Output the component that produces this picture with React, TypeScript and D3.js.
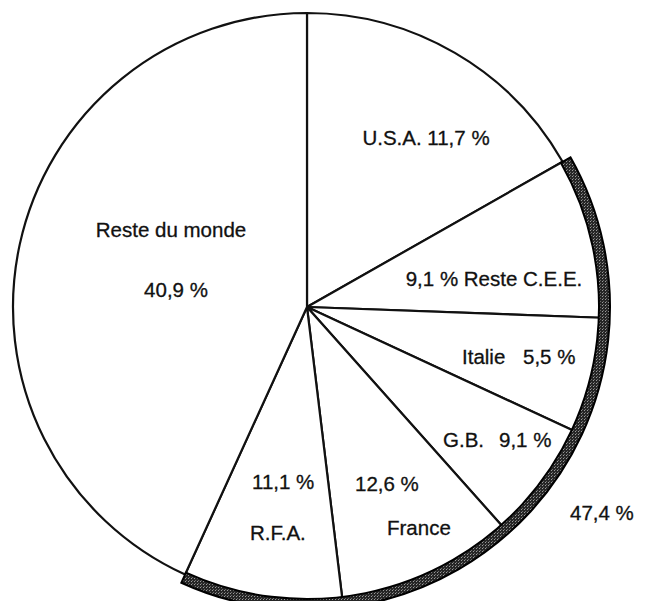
import React, { useRef, useEffect } from 'react';
import * as d3 from 'd3';

// slices clockwise from 12 o'clock
const countries = ['U.S.A.', 'Reste C.E.E.', 'Italie', 'G.B.', 'France', 'R.F.A.', 'Reste du monde'];
// printed percentages
const shares = [11.7, 9.1, 5.5, 9.1, 12.6, 11.1, 40.9];
// sector sizes as actually drawn in the original (degrees), not proportional to shares
const drawnDegrees = [60.4, 31.7, 22.8, 23.4, 34.8, 31.4, 155.5];
// slices covered by the thick outer band (C.E.E. members)
const eecIndices = [1, 2, 3, 4, 5];

const W = 645;
const H = 601;
const cx = 307;
const cy = 307;
const R = 294;

const pct = (v: number) => d3.format('.1f')(v).replace('.', ',') + ' %';

const App = () => {
  const ref = useRef<SVGSVGElement>(null);

  useEffect(() => {
    if (!ref.current) return;
    const svg = d3.select(ref.current);
    svg.selectAll('*').remove();

    const defs = svg.append('defs');
    const pat = defs.append('pattern')
      .attr('id', 'stipple')
      .attr('width', 3).attr('height', 3)
      .attr('patternUnits', 'userSpaceOnUse');
    pat.append('rect').attr('width', 3).attr('height', 3).attr('fill', '#262626');
    pat.append('rect').attr('x', 1).attr('y', 1).attr('width', 1).attr('height', 1).attr('fill', '#9a9a9a');
    pat.append('rect').attr('x', 2).attr('y', 0).attr('width', 1).attr('height', 1).attr('fill', '#6a6a6a');

    const g = svg.append('g').attr('transform', `translate(${cx},${cy})`);

    const pie = d3.pie<number>().sort(null).value(d => d)
      .startAngle(0).endAngle(2 * Math.PI);
    const arcs = pie(drawnDegrees);

    const arc = d3.arc<d3.PieArcDatum<number>>().innerRadius(0).outerRadius(R);

    g.selectAll('path.slice')
      .data(arcs)
      .enter().append('path')
      .attr('class', 'slice')
      .attr('d', arc)
      .attr('fill', '#fff')
      .attr('stroke', '#111')
      .attr('stroke-width', 2.2)
      .attr('stroke-linejoin', 'round');

    // thick band around the E.E.C. slices
    const bandStart = arcs[eecIndices[0]].startAngle;
    const bandEnd = arcs[eecIndices[eecIndices.length - 1]].endAngle;
    const band = d3.arc()
      .innerRadius(R - 2)
      .outerRadius(R + 9)
      .startAngle(bandStart)
      .endAngle(bandEnd);
    g.append('path')
      .attr('d', band as any)
      .attr('fill', 'url(#stipple)')
      .attr('stroke', '#000')
      .attr('stroke-width', 2);

    const font = { family: '"Liberation Sans", Arial, sans-serif', size: 20.5 };
    const txt = (x: number, y: number, s: string, anchor = 'start') =>
      svg.append('text')
        .attr('x', x).attr('y', y)
        .attr('text-anchor', anchor)
        .attr('font-family', font.family)
        .attr('font-size', font.size)
        .attr('fill', '#111')
        .attr('stroke', '#111')
        .attr('stroke-width', 0.3)
        .text(s);

    const [usa, cee, ita, gb, fra, rfa, rdm] = countries;
    txt(426, 145, `${usa} ${pct(shares[0])}`, 'middle');
    txt(494, 286, `${pct(shares[1])} ${cee}`, 'middle');
    txt(462, 364, ita);
    txt(523, 364, pct(shares[2]));
    txt(443, 447, gb);
    txt(499, 447, pct(shares[3]));
    txt(355, 491, pct(shares[4]));
    txt(387, 535, fra);
    txt(252, 489, pct(shares[5]));
    txt(250, 540, rfa);
    txt(171, 237, rdm, 'middle');
    txt(176, 297, pct(shares[6]), 'middle');

    const eecTotal = d3.sum(eecIndices, i => shares[i]);
    txt(570, 520, pct(eecTotal));
  }, []);

  return (
    <svg
      ref={ref}
      width={W}
      height={H}
      style={{ position: 'absolute', left: 0, top: 0, background: '#fff' }}
    />
  );
};

export default App;
